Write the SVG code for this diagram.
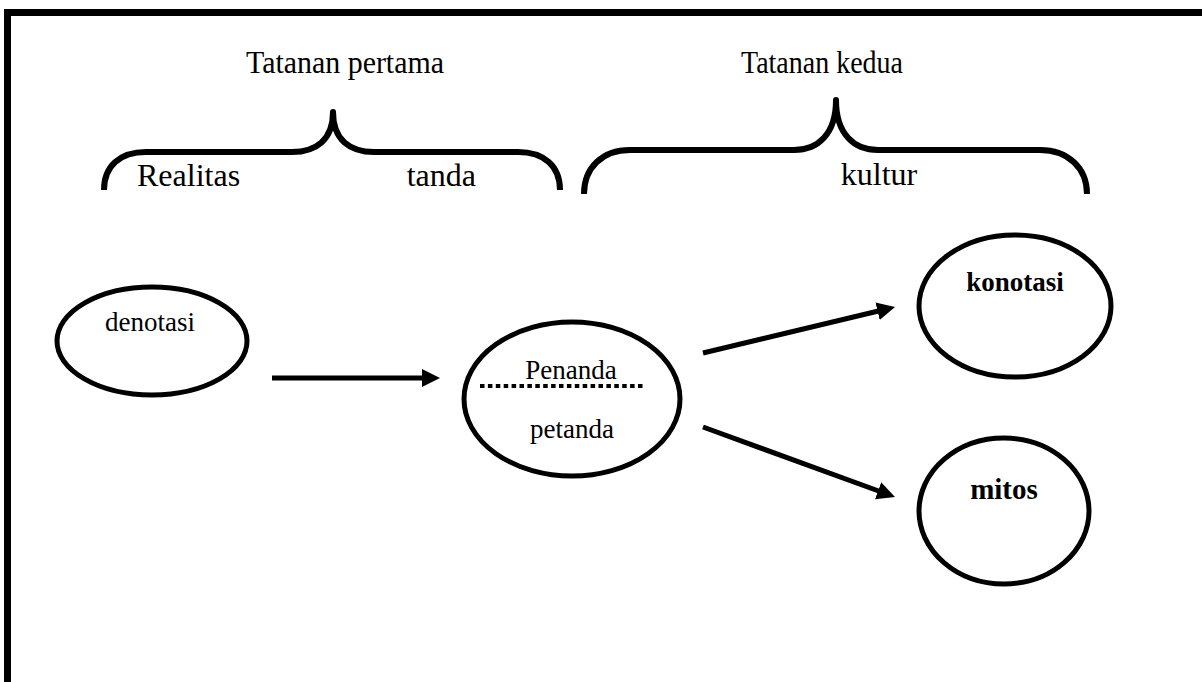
<svg xmlns="http://www.w3.org/2000/svg" width="1202" height="682" viewBox="0 0 1202 682">
<style>
  .t { font-family: "Liberation Serif", "Times New Roman", serif; fill: #000; }
  .h { font-size: 31px; }
  .l { font-size: 32px; }
  .n { font-size: 27px; }
  .b { font-size: 27px; font-weight: bold; }
  .ov { fill: none; stroke: #000; stroke-width: 5; }
  .br { fill: none; stroke: #000; stroke-width: 6; stroke-linejoin: round; }
  .ar { fill: none; stroke: #000; stroke-width: 5; marker-end: url(#ah); }
</style>
<defs>
  <marker id="ah" markerUnits="userSpaceOnUse" markerWidth="19" markerHeight="19" refX="2" refY="9" orient="auto">
    <path d="M0,0 L18,9 L0,18 z" fill="#000"/>
  </marker>
</defs>
<rect width="1202" height="682" fill="#fff"/>
<g id="frame">
  <path d="M7.5,682 V12.5 H1202" fill="none" stroke="#000" stroke-width="7"/>
</g>
<g id="tatanan-pertama">
  <text class="t h" x="246" y="73" textLength="198" lengthAdjust="spacingAndGlyphs">Tatanan pertama</text>
  <path class="br" d="M104,190 C104,166 120,152 146,152 L292,152 C316,152 333,140 333,112 C333,140 350,152 374,152 L518,152 C544,152 560,166 560,190"/>
  <text class="t l" x="137" y="186">Realitas</text>
  <text class="t l" x="476" y="186" text-anchor="end">tanda</text>
</g>
<g id="tatanan-kedua">
  <text class="t h" x="741" y="73" textLength="162" lengthAdjust="spacingAndGlyphs">Tatanan kedua</text>
  <path class="br" d="M584,194 C584,168 602,150 630,150 L794,150 C818,150 836,134 836,100 C836,134 854,150 878,150 L1040,150 C1068,150 1087,168 1087,194"/>
  <text class="t l" x="879" y="185" text-anchor="middle">kultur</text>
</g>
<g id="denotasi">
  <ellipse class="ov" cx="152" cy="341" rx="95" ry="54"/>
  <text class="t n" x="150" y="331" text-anchor="middle">denotasi</text>
</g>
<g id="penanda">
  <ellipse class="ov" cx="572" cy="399" rx="108" ry="77"/>
  <text class="t n" x="571" y="379" text-anchor="middle">Penanda</text>
  <line x1="480" y1="386" x2="645" y2="386" stroke="#000" stroke-width="4" stroke-dasharray="4.5 3.4"/>
  <text class="t n" x="572" y="438" text-anchor="middle">petanda</text>
</g>
<g id="konotasi">
  <ellipse class="ov" cx="1015" cy="306" rx="96" ry="71"/>
  <text class="t b" x="1015" y="291" text-anchor="middle">konotasi</text>
</g>
<g id="mitos">
  <ellipse class="ov" cx="1004" cy="511" rx="85" ry="73"/>
  <text class="t b" x="1004" y="499" text-anchor="middle" style="font-size:29px">mitos</text>
</g>
<g id="connectors">
  <line class="ar" x1="272" y1="378" x2="424" y2="378"/>
  <line class="ar" x1="703" y1="353" x2="879.5" y2="310.7"/>
  <line class="ar" x1="703" y1="427" x2="880" y2="491.5"/>
</g>
</svg>
